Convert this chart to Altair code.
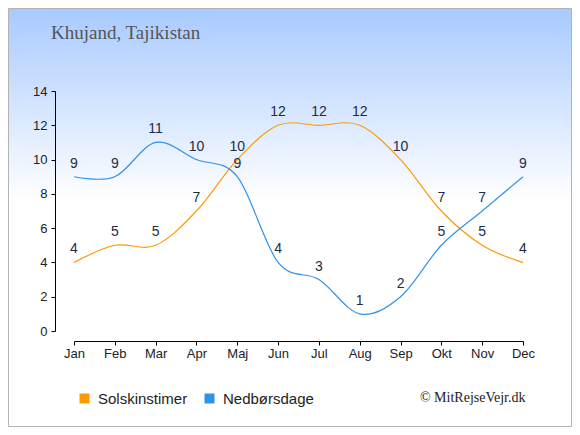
import altair as alt
import pandas as pd

months = ["Jan", "Feb", "Mar", "Apr", "Maj", "Jun", "Jul", "Aug", "Sep", "Okt", "Nov", "Dec"]
sun = [4, 5, 5, 7, 10, 12, 12, 12, 10, 7, 5, 4]
rain = [9, 9, 11, 10, 9, 4, 3, 1, 2, 5, 7, 9]
series_names = ["Solskinstimer", "Nedbørsdage"]
colors = ["#FF9900", "#2F93E8"]
y_ticks = [0, 2, 4, 6, 8, 10, 12, 14]
title_text = "Khujand, Tajikistan"
credit_text = "© MitRejseVejr.dk"

rows = []
for m, s, r in zip(months, sun, rain):
    rows.append({"month": m, "value": s, "series": series_names[0]})
    rows.append({"month": m, "value": r, "series": series_names[1]})
df = pd.DataFrame(rows)

W, H = 449, 240
PL, PT, PR, PB = 66, 83, 49, 96

x_enc = alt.X(
    "month:O", sort=months, scale=alt.Scale(padding=0),
    axis=alt.Axis(title=None, labelAngle=0, offset=10, tickSize=4, labelPadding=2,
                  domainColor="#000", tickColor="#000", labelFontSize=13,
                  labelColor="#222", labelFont="Liberation Sans", grid=False, zindex=2),
)
y_enc = alt.Y(
    "value:Q", scale=alt.Scale(domain=[0, 14], nice=False),
    axis=alt.Axis(title=None, values=y_ticks, offset=19, tickSize=4, labelPadding=4,
                  domainColor="#000", tickColor="#000", labelFontSize=13,
                  labelColor="#222", labelFont="Liberation Sans", grid=False, zindex=2),
)

bg = alt.Chart(alt.Data(values=[{"a": 1}])).mark_rect(
    fill=alt.Gradient(
        gradient="linear", x1=0, y1=0, x2=0, y2=1,
        stops=[alt.GradientStop(color="#a8caff", offset=0),
               alt.GradientStop(color="#ffffff", offset=0.46),
               alt.GradientStop(color="#ffffff", offset=1)],
    ),
    stroke="#b3b3b3", strokeWidth=1,
).encode(
    x=alt.value(-PL + 0.5), x2=alt.value(W + PR - 0.5),
    y=alt.value(-PT + 0.5), y2=alt.value(H + PB - 0.5),
)

color_scale = alt.Scale(domain=series_names, range=colors)

lines = alt.Chart(df).mark_line(interpolate="cardinal", strokeWidth=1.2).encode(
    x=x_enc, y=y_enc,
    color=alt.Color(
        "series:N", scale=color_scale,
        legend=alt.Legend(
            title=None, orient="none", legendX=3, legendY=300, direction="horizontal",
            symbolType="square", symbolSize=25, symbolStrokeWidth=5,
            labelFontSize=15, labelFont="Liberation Sans", labelColor="#222",
            columnPadding=9, labelOffset=6, zindex=2,
        ),
    ),
)

labels = alt.Chart(df).mark_text(
    dy=-13, fontSize=14, color="#1e2b47", font="Liberation Sans"
).encode(x=x_enc, y=y_enc, text="value:Q")

title = alt.Chart(alt.Data(values=[{"t": title_text}])).mark_text(
    align="left", baseline="alphabetic", font="Liberation Serif", fontSize=19, color="#555555"
).encode(x=alt.value(51 - 74), y=alt.value(38.5 - 91), text="t:N")

credit = alt.Chart(alt.Data(values=[{"t": credit_text}])).mark_text(
    align="right", baseline="alphabetic", font="Liberation Serif", fontSize=14, color="#222222"
).encode(x=alt.value(525.5 - 74), y=alt.value(402 - 91), text="t:N")

chart = alt.layer(bg, lines, labels, title, credit).properties(
    width=W, height=H,
    autosize=alt.AutoSizeParams(type="none"),
    padding={"left": PL, "top": PT, "right": PR, "bottom": PB},
).configure_view(strokeWidth=0)

chart.save("out.html", embed_options={"renderer": "svg", "actions": False})
